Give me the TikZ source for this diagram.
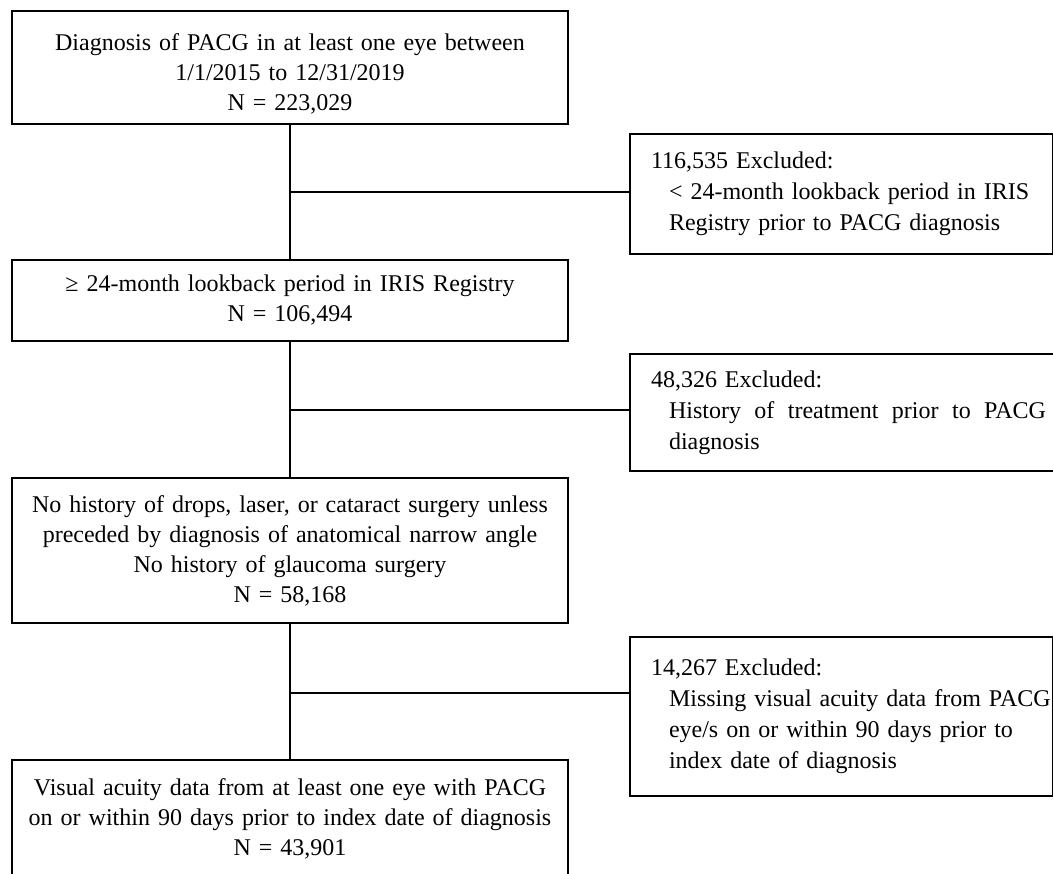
\documentclass[tikz,border=0pt]{standalone}
\usepackage{fontspec}
\setmainfont{Liberation Serif}
\begin{document}
\begin{tikzpicture}[x=0.75pt,y=-0.75pt,
  line width=1.5pt,
  mainbox/.style={draw, rectangle, minimum width=417pt, text width=400pt, align=center,
    inner sep=0pt, font=\fontsize{18pt}{22.5pt}\selectfont},
  exclbox/.style={draw, rectangle, anchor=north west, align=left, inner xsep=15.75pt, inner ysep=0pt,
    font=\fontsize{18pt}{23.25pt}\selectfont},
  link/.style={line width=1.5pt}]
\useasboundingbox (0,0) rectangle (1053,874);
\clip (0,0) rectangle (1053,874);

\node[mainbox, minimum height=84.75pt] (b1) at (290,67.5)
  {\rule{0pt}{22.5pt}Diagnosis of PACG in at least one eye between\\ 1/1/2015 to 12/31/2019\\ N = 223,029};
\node[mainbox, minimum height=60.75pt] (b2) at (290,300.5)
  {≥ 24-month lookback period in IRIS Registry\\ N = 106,494};
\node[mainbox, minimum height=108.75pt] (b3) at (290,550.5)
  {No history of drops, laser, or cataract surgery unless\\ preceded by diagnosis of anatomical narrow angle\\ No history of glaucoma surgery\\ N = 58,168};
\node[mainbox, minimum height=88.5pt, anchor=north] (b4) at (290,759)
  {Visual acuity data from at least one eye with PACG\\ on or within 90 days prior to index date of diagnosis\\ N = 43,901};

\node[exclbox, text width=285.75pt, minimum height=90pt] (e1) at (629,133)
  {\mbox{116,535 Excluded:}\\ \mbox{\hspace*{13.5pt}< 24-month lookback period in IRIS}\\ \mbox{\hspace*{13.5pt}Registry prior to PACG diagnosis}};
\node[exclbox, text width=296pt, minimum height=87.75pt] (e2) at (629,353)
  {\mbox{48,326 Excluded:}\\ \mbox{\hspace*{13.5pt}\hbox to 282.75pt{History\hfill of\hfill treatment\hfill prior\hfill to\hfill PACG}}\\ \mbox{\hspace*{13.5pt}diagnosis}};
\node[exclbox, text width=285.75pt, minimum height=119.25pt] (e3) at (629,636)
  {\mbox{14,267 Excluded:}\\ \mbox{\hspace*{13.5pt}Missing visual acuity data from PACG}\\ \mbox{\hspace*{13.5pt}eye/s on or within 90 days prior to}\\ \mbox{\hspace*{13.5pt}index date of diagnosis}};

\coordinate (c1) at (290,192);
\coordinate (c2) at (290,410);
\coordinate (c3) at (290,693);

\draw[link] (b1.south) -- (b2.north);
\draw[link] (b2.south) -- (b3.north);
\draw[link] (b3.south) -- (b4.north);
\draw[link] (c1) -- (c1 -| e1.west);
\draw[link] (c2) -- (c2 -| e2.west);
\draw[link] (c3) -- (c3 -| e3.west);
\end{tikzpicture}
\end{document}
